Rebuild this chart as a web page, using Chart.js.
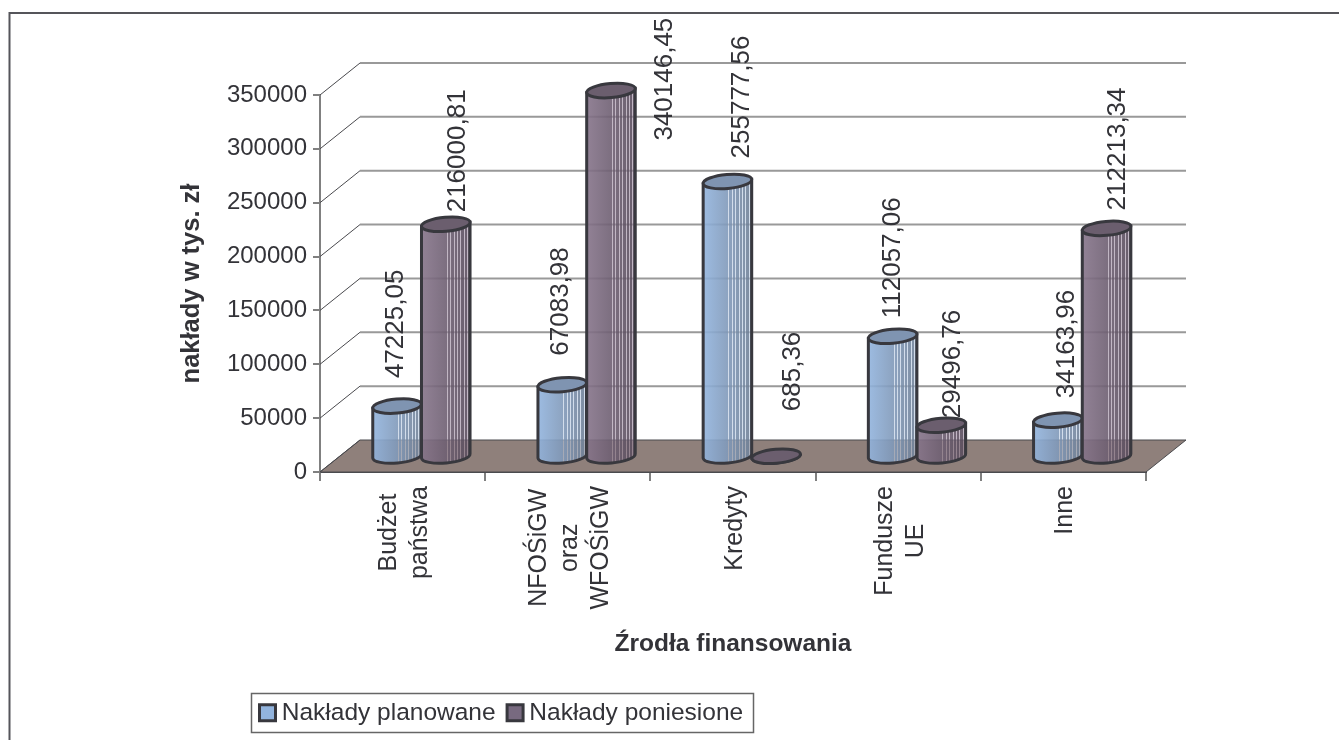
<!DOCTYPE html>
<html lang="pl">
<head>
<meta charset="utf-8">
<title>Źrodła finansowania</title>
<script src="https://cdn.jsdelivr.net/npm/chart.js@4/dist/chart.umd.min.js"></script>
<style>
   html, body { margin: 0; padding: 0; background: #fff; }
   canvas { display: block; }
</style>
</head>
<body>
<canvas id="myChart" width="1339" height="740"></canvas>
<script>
// ==========================================
// Data
// ==========================================

const categories = [["Budżet", "państwa"], ["NFOŚiGW", "oraz", "WFOŚiGW"], ["Kredyty"], ["Fundusze", "UE"], ["Inne"]];
const planned = [47225.05, 67083.98, 255777.56, 112057.06, 34163.96];
const spent = [216000.81, 340146.45, 685.36, 29496.76, 212213.34];
const seriesNames = ["Nakłady planowane", "Nakłady poniesione"];
const yMax = 350000;
const yStep = 50000;

// Where each value label sits relative to its cylinder top
const plannedLabelNudge = [[6, -28], [6, -29], [22, -23], [7, -18], [16, -22]];
const spentLabelNudge = [[19, -12], [61, 50], [24, -45], [19, -7], [18, -18]];

// ==========================================
// Look
// ==========================================

const FONT = "'Liberation Sans', Arial, sans-serif";
const TEXT = "#333338";
const LINE = "#38383e";
const DEPTH_X = 40;
const DEPTH_Y = 32;
const BAR_SHIFT = 0.47; // cylinders stand this far into the floor
const TILT = -5 * Math.PI / 180;
const RY = 7;

const looks = [
   { base: "#92b4de", left: [146, 180, 222], right: [112, 128, 150], stripe: "rgba(180,198,222,0.6)", top: "#7f94b1" },
   { base: "#786a80", left: [134, 116, 138], right: [88, 76, 92], stripe: "rgba(152,134,156,0.6)", top: "#6b5e6e" }
];

// Horizontal shading with thin light stripes, like the old 3D cylinders
function bodyFill(ctx, x0, x1, look) {
   const g = ctx.createLinearGradient(x0, 0, x1, 0);
   const w = x1 - x0;
   const colorAt = (t) => {
      const c = look.left.map((v, i) => Math.round(v + (look.right[i] - v) * t));
      return `rgba(${c[0]},${c[1]},${c[2]},0.9)`;
   };
   g.addColorStop(0, colorAt(0));
   for (let px = 0.52 * w; px < 0.94 * w; px += 3.4) {
      const t = px / w;
      const t2 = Math.min(t + 1 / w, 1);
      g.addColorStop(t, colorAt(t));
      g.addColorStop(t, look.stripe);
      g.addColorStop(t2, look.stripe);
      g.addColorStop(t2, colorAt(t2));
   }
   g.addColorStop(1, colorAt(1));
   return g;
}

function drawCylinder(ctx, cx, yTop, yBase, rx, look) {
   const ex = rx * Math.cos(TILT);
   const ey = rx * Math.sin(TILT);
   ctx.save();
   ctx.lineWidth = 3;
   ctx.strokeStyle = LINE;
   ctx.beginPath();
   ctx.moveTo(cx + ex, yTop + ey);
   ctx.lineTo(cx + ex, yBase + ey);
   ctx.ellipse(cx, yBase, rx, RY, TILT, 0, Math.PI, false);
   ctx.lineTo(cx - ex, yTop - ey);
   ctx.closePath();
   ctx.fillStyle = bodyFill(ctx, cx - rx, cx + rx, look);
   ctx.fill();
   ctx.stroke();
   ctx.beginPath();
   ctx.ellipse(cx, yTop, rx, RY, TILT, 0, Math.PI * 2);
   ctx.fillStyle = look.top;
   ctx.fill();
   ctx.stroke();
   ctx.restore();
}

// ==========================================
// 3D plugin
// ==========================================

const scene3d = {
   id: "scene3d",
   afterLayout(chart) {
      // Legend box sits lower left, not centred
      const lg = chart.legend;
      lg.left = 248;
      lg.right = 800;
      lg.top = 683;
   },
   beforeDraw(chart) {
      const { ctx, width, height } = chart;
      ctx.save();
      ctx.fillStyle = "#fff";
      ctx.fillRect(0, 0, width, height);
      // Only the top and left sides of the frame show
      ctx.strokeStyle = "#55555a";
      ctx.lineWidth = 2;
      ctx.beginPath();
      ctx.moveTo(9.5, height);
      ctx.lineTo(9.5, 13);
      ctx.lineTo(width, 13);
      ctx.stroke();
      // Legend frame
      ctx.lineWidth = 1.5;
      ctx.strokeStyle = "#666";
      ctx.strokeRect(251.5, 693.5, 502, 39);
      ctx.restore();
   },
   beforeDatasetsDraw(chart) {
      const { ctx, chartArea: area, scales } = chart;
      const y0 = scales.y.getPixelForValue(0);
      ctx.save();
      // Floor
      ctx.beginPath();
      ctx.moveTo(area.left, y0);
      ctx.lineTo(area.left + DEPTH_X, y0 - DEPTH_Y);
      ctx.lineTo(area.right + DEPTH_X, y0 - DEPTH_Y);
      ctx.lineTo(area.right, y0);
      ctx.closePath();
      ctx.fillStyle = "#8f807b";
      ctx.fill();
      ctx.strokeStyle = "#4a4a4e";
      ctx.lineWidth = 1;
      ctx.stroke();
      // Grid on both walls, from the axis ticks
      scales.y.ticks.forEach((tick) => {
         const y = scales.y.getPixelForValue(tick.value);
         ctx.strokeStyle = "#4a4a4e";
         ctx.lineWidth = 1;
         ctx.beginPath();
         ctx.moveTo(area.left, y);
         ctx.lineTo(area.left + DEPTH_X, y - DEPTH_Y);
         ctx.stroke();
         if (tick.value === 0) return;
         ctx.strokeStyle = "#999";
         ctx.lineWidth = 2;
         ctx.beginPath();
         ctx.moveTo(area.left + DEPTH_X, y - DEPTH_Y);
         ctx.lineTo(area.right + DEPTH_X, y - DEPTH_Y);
         ctx.stroke();
      });
      ctx.restore();
   },
   beforeDatasetDraw() {
      return false; // cylinders replace the flat bars
   },
   afterDatasetsDraw(chart) {
      const { ctx, scales } = chart;
      const shiftX = DEPTH_X * BAR_SHIFT;
      const shiftY = DEPTH_Y * BAR_SHIFT;
      const nudges = [plannedLabelNudge, spentLabelNudge];

      // Second series stands in front of the first
      chart.data.datasets.forEach((ds, d) => {
         chart.getDatasetMeta(d).data.forEach((bar) => {
            const rx = bar.width / 2;
            drawCylinder(ctx, bar.x + shiftX, bar.y - shiftY, bar.base - shiftY, rx, looks[d]);
         });
      });

      // Value labels
      ctx.save();
      ctx.font = `26px ${FONT}`;
      ctx.fillStyle = TEXT;
      ctx.textAlign = "left";
      ctx.textBaseline = "alphabetic";
      chart.data.datasets.forEach((ds, d) => {
         chart.getDatasetMeta(d).data.forEach((bar, i) => {
            ctx.save();
            ctx.translate(bar.x + shiftX + nudges[d][i][0], bar.y - shiftY + nudges[d][i][1]);
            ctx.rotate(-Math.PI / 2);
            ctx.fillText(String(ds.data[i]).replace(".", ","), 0, 0);
            ctx.restore();
         });
      });

      // Category labels: block starts under the axis, lines centred on each other
      ctx.font = `25px ${FONT}`;
      const lineGap = 31;
      const topY = scales.y.getPixelForValue(0) + 14;
      categories.forEach((lines, i) => {
         const cx = scales.x.getPixelForValue(i);
         const longest = Math.max(...lines.map((l) => ctx.measureText(l).width));
         const midY = topY + longest / 2;
         ctx.textAlign = "center";
         lines.forEach((line, n) => {
            ctx.save();
            ctx.translate(cx + 9 + (n - (lines.length - 1) / 2) * lineGap, midY);
            ctx.rotate(-Math.PI / 2);
            ctx.fillText(line, 0, 0);
            ctx.restore();
         });
      });
      ctx.restore();
   }
};

// ==========================================
// Chart
// ==========================================

const ctx = document.getElementById("myChart");

const chart = new Chart(ctx, {
   type: "bar",
   data: {
      labels: categories.map((c) => c.join(" ")),
      datasets: [
         { label: seriesNames[0], data: planned, backgroundColor: looks[0].base, borderColor: LINE, borderWidth: 3 },
         { label: seriesNames[1], data: spent, backgroundColor: looks[1].base, borderColor: LINE, borderWidth: 3 }
      ]
   },
   plugins: [scene3d],
   options: {
      responsive: false,
      animation: false,
      categoryPercentage: 0.59,
      barPercentage: 1,
      layout: { padding: { left: 177, top: 95, right: 193, bottom: 0 } },
      plugins: {
         tooltip: { enabled: false },
         legend: {
            position: "bottom",
            align: "start",
            labels: {
               font: { family: FONT, size: 24.5 },
               color: TEXT,
               usePointStyle: true,
               pointStyle: "rect",
               boxWidth: 4,
               boxHeight: 16,
               padding: 17.5
            }
         }
      },
      scales: {
         x: {
            afterFit(scale) { scale.height = 216; },
            grid: { drawOnChartArea: false, color: "#808080", lineWidth: 2, tickLength: 9 },
            border: { color: "#4a4a4e", width: 2 },
            ticks: { display: false },
            title: {
               display: true,
               text: "Źrodła finansowania",
               color: TEXT,
               font: { family: FONT, size: 24.5, weight: "bold" },
               padding: { top: 0, bottom: 29 }
            }
         },
         y: {
            min: 0,
            max: yMax,
            afterFit(scale) { scale.width = 143; },
            grid: { drawOnChartArea: false, color: "#808080", lineWidth: 2, tickLength: 7 },
            border: { color: "#808080", width: 2 },
            ticks: {
               stepSize: yStep,
               color: TEXT,
               padding: 6,
               font: { family: FONT, size: 24 },
               callback: (value) => String(value)
            },
            title: {
               display: true,
               text: "nakłady w tys. zł",
               color: TEXT,
               font: { family: FONT, size: 25.5, weight: "bold" },
               padding: 0
            }
         }
      }
   }
});
</script>
</body>
</html>
